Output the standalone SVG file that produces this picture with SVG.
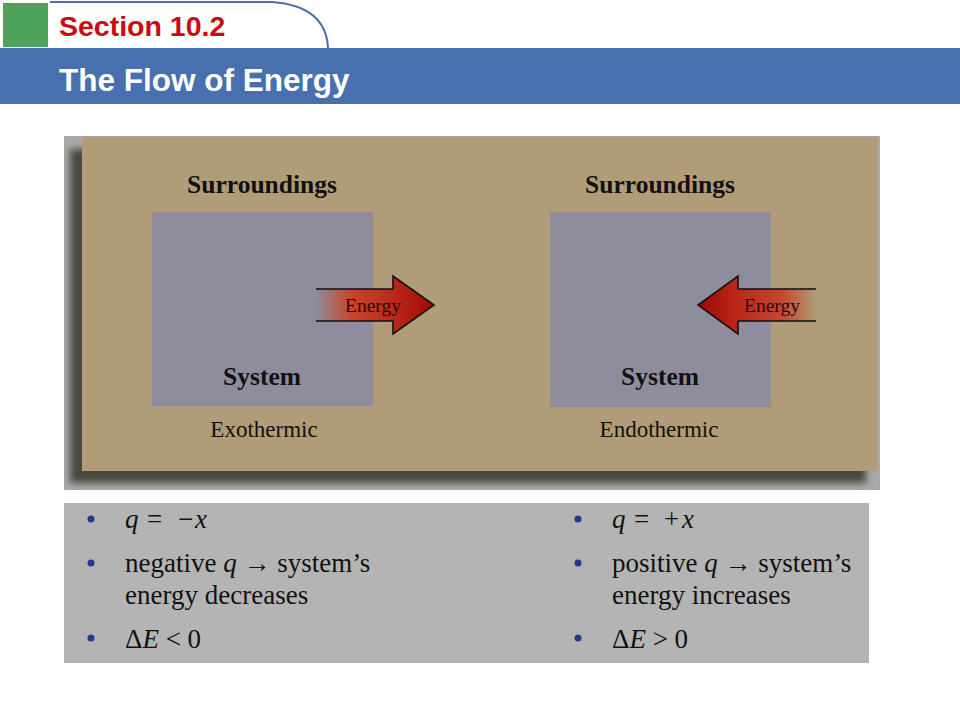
<svg xmlns="http://www.w3.org/2000/svg" width="960" height="720" viewBox="0 0 960 720">
<defs>
<style>
.hdr{font-family:"Liberation Sans",Arial,sans-serif;font-weight:bold}
.srf{font-family:"Liberation Serif","Times New Roman",serif}
.lbl{font-size:25.5px;font-weight:bold;fill:#111;text-anchor:middle}
.cap{font-size:23px;fill:#111;text-anchor:middle}
.en{font-size:19.5px;fill:#2a0808;text-anchor:middle}
.bt{font-size:27px;fill:#111}
.bul{fill:#1f3c8c}
.sys{fill:#8f8d9d}
.shaft{stroke:#111;stroke-width:1.6;fill:none}
.head{stroke:#111;stroke-width:1.6;stroke-linejoin:miter}
</style>
<linearGradient id="gR" x1="316" y1="0" x2="434" y2="0" gradientUnits="userSpaceOnUse">
<stop offset="0" stop-color="#c8402a" stop-opacity="0"/>
<stop offset="0.3" stop-color="#c8452c" stop-opacity="1"/>
<stop offset="0.7" stop-color="#b82518"/>
<stop offset="1" stop-color="#a00800"/>
</linearGradient>
<linearGradient id="gL" x1="816" y1="0" x2="698" y2="0" gradientUnits="userSpaceOnUse">
<stop offset="0" stop-color="#c8402a" stop-opacity="0"/>
<stop offset="0.3" stop-color="#c8452c" stop-opacity="1"/>
<stop offset="0.7" stop-color="#b82518"/>
<stop offset="1" stop-color="#a00800"/>
</linearGradient>
<filter id="blur" x="-10%" y="-10%" width="120%" height="120%"><feGaussianBlur stdDeviation="3.5"/></filter>
<clipPath id="frameClip"><rect x="64" y="136" width="816" height="354"/></clipPath>
</defs>
<rect width="960" height="720" fill="#fff"/>

<g id="header">
<rect x="3" y="3" width="45" height="44" fill="#4ea35a"/>
<path d="M50 2 H272 Q326 6 328 48" fill="none" stroke="#4a6fae" stroke-width="2"/>
<rect x="0" y="48" width="960" height="56" fill="#4870ae"/>
<text class="hdr" x="59" y="36" font-size="28.5" fill="#cc0a14">Section 10.2</text>
<text class="hdr" x="59" y="91" font-size="31.5" fill="#fff">The Flow of Energy</text>
</g>

<g id="panel">
<rect x="64" y="136" width="816" height="354" fill="#a9a9a9"/>
<g clip-path="url(#frameClip)">
<rect x="70" y="149" width="796" height="334" fill="#4a4a40" filter="url(#blur)"/>
</g>
<rect x="82" y="137" width="796" height="334" fill="#b09c78"/>
</g>

<g id="exo-system">
<rect class="sys" x="152" y="212" width="221" height="194"/>
<text class="srf lbl" x="262" y="193">Surroundings</text>
<text class="srf lbl" x="262" y="385">System</text>
<text class="srf cap" x="264" y="437">Exothermic</text>
</g>

<g id="endo-system">
<rect class="sys" x="550" y="212" width="221" height="195"/>
<text class="srf lbl" x="660" y="193">Surroundings</text>
<text class="srf lbl" x="660" y="385">System</text>
<text class="srf cap" x="659" y="437">Endothermic</text>
</g>

<g id="connectors">
<g id="arrow-out">
<polygon points="316,289 393,289 393,276 434,305 393,334 393,321 316,321" fill="url(#gR)"/>
<path class="shaft" d="M316 289 H393 M316 321 H393"/>
<path class="head" d="M393 289 V276 L434 305 L393 334 V321" fill="none"/>
<text class="srf en" x="373" y="312">Energy</text>
</g>
<g id="arrow-in">
<polygon points="816,289 738,289 738,276 698,305 738,334 738,321 816,321" fill="url(#gL)"/>
<path class="shaft" d="M816 289 H738 M816 321 H738"/>
<path class="head" d="M738 289 V276 L698 305 L738 334 V321" fill="none"/>
<text class="srf en" x="772" y="312">Energy</text>
</g>
</g>

<g id="notes">
<rect x="64" y="503" width="805" height="160" fill="#b4b4b4"/>
<circle class="bul" cx="91" cy="519" r="3.5"/>
<circle class="bul" cx="91" cy="563" r="3.5"/>
<circle class="bul" cx="91" cy="638" r="3.5"/>
<text class="srf bt" y="528"><tspan x="125" font-style="italic">q</tspan><tspan x="147">=</tspan><tspan x="178">−</tspan><tspan x="195" font-style="italic">x</tspan></text>
<text class="srf bt" x="125" y="572">negative <tspan font-style="italic">q</tspan> → system’s</text>
<text class="srf bt" x="125" y="604">energy decreases</text>
<text class="srf bt" x="125" y="648">Δ<tspan font-style="italic">E</tspan> &lt; 0</text>

<circle class="bul" cx="578" cy="519" r="3.5"/>
<circle class="bul" cx="578" cy="563" r="3.5"/>
<circle class="bul" cx="578" cy="638" r="3.5"/>
<text class="srf bt" y="528"><tspan x="612" font-style="italic">q</tspan><tspan x="634">=</tspan><tspan x="664">+</tspan><tspan x="682" font-style="italic">x</tspan></text>
<text class="srf bt" x="612" y="572">positive <tspan font-style="italic">q</tspan> → system’s</text>
<text class="srf bt" x="612" y="604">energy increases</text>
<text class="srf bt" x="612" y="648">Δ<tspan font-style="italic">E</tspan> &gt; 0</text>
</g>
</svg>
